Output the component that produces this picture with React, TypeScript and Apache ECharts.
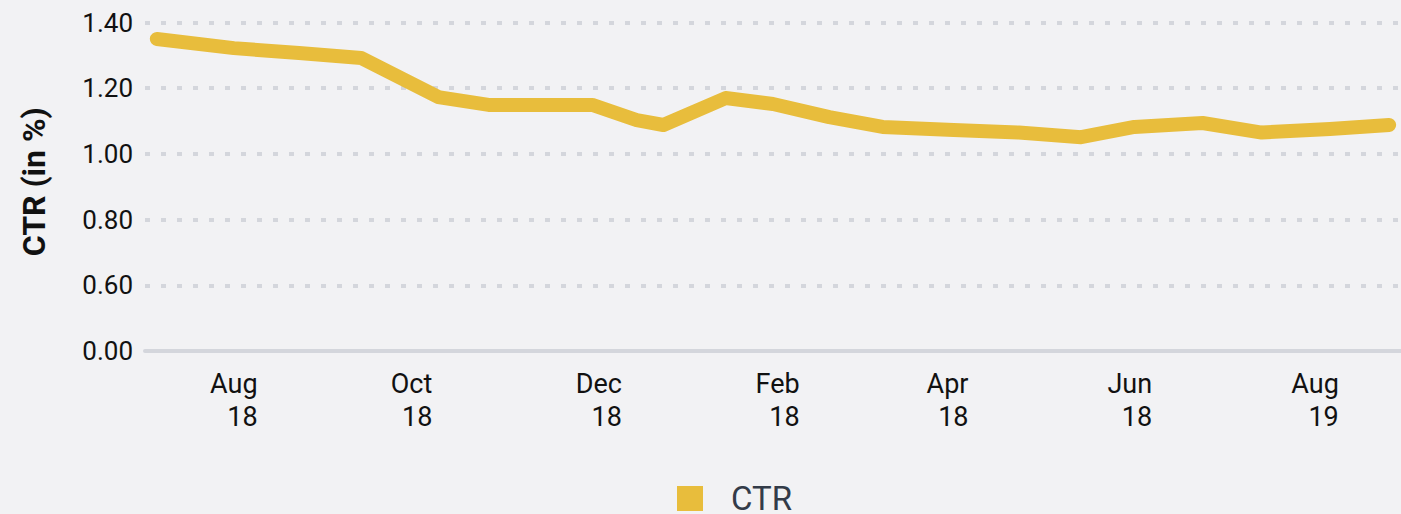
import React, { useEffect, useRef } from "react";
import * as echarts from "echarts";

// CTR series: [date (UTC y, m, d), value in %]
const pointDates: [number, number, number][] = [
  [2018, 6, 28], [2018, 7, 24], [2018, 8, 15], [2018, 9, 5], [2018, 10, 1],
  [2018, 10, 18], [2018, 11, 4], [2018, 11, 22], [2018, 12, 7], [2018, 12, 16],
  [2019, 1, 6], [2019, 1, 22], [2019, 2, 10], [2019, 2, 28], [2019, 3, 24],
  [2019, 4, 15], [2019, 5, 6], [2019, 5, 24], [2019, 6, 16], [2019, 7, 6],
  [2019, 7, 29], [2019, 8, 18],
];
const ctrValues: number[] = [
  1.35, 1.322, 1.307, 1.292, 1.173,
  1.149, 1.149, 1.149, 1.103, 1.088,
  1.17, 1.152, 1.112, 1.082, 1.073,
  1.065, 1.051, 1.082, 1.094, 1.065,
  1.076, 1.088,
];

// x axis tick labels and where they sit
const xTickDates: [number, number, number][] = [
  [2018, 8, 1], [2018, 9, 29], [2018, 12, 2], [2019, 1, 31],
  [2019, 3, 29], [2019, 5, 30], [2019, 8, 1],
];
const xTickLabels: string[] = [
  "Aug\n18", "Oct\n18", "Dec\n18", "Feb\n18", "Apr\n18", "Jun\n18", "Aug\n19",
];
const xRange: [number, number, number][] = [[2018, 6, 24], [2019, 8, 22]];

// y axis: broken scale, bottom tick reads 0.00
const yTickValues: number[] = [0.4, 0.6, 0.8, 1.0, 1.2, 1.4];
const yTickLabels: string[] = ["0.00", "0.60", "0.80", "1.00", "1.20", "1.40"];

const DAY = 86400000;
const dayOf = (d: [number, number, number]) =>
  Math.round((Date.UTC(d[0], d[1] - 1, d[2]) - Date.UTC(xRange[0][0], xRange[0][1] - 1, xRange[0][2])) / DAY);

export default function App() {
  const ref = useRef<HTMLDivElement>(null);
  useEffect(() => {
    if (!ref.current) return;
    const chart = echarts.init(ref.current, null, { renderer: "svg" });
    const tickDays = xTickDates.map(dayOf);
    const gridColor = "#D4D6DC";
    chart.setOption({
      animation: false,
      backgroundColor: "#F2F2F4",
      textStyle: { fontFamily: "Roboto" },
      grid: { left: 145, right: 0, top: 22.5, bottom: 163, containLabel: false },
      legend: {
        data: ["CTR"],
        icon: "rect",
        itemWidth: 26,
        itemHeight: 25,
        left: 677,
        top: 482,
        padding: 0,
        textStyle: {
          fontSize: 33,
          lineHeight: 30,
          color: "#333B48",
          fontFamily: "Roboto",
          padding: [0, 0, 0, 23],
        },
      },
      xAxis: {
        type: "value",
        min: 0,
        max: dayOf(xRange[1]),
        axisLine: { show: true, onZero: false, lineStyle: { color: gridColor, width: 4 } },
        axisTick: { show: false },
        splitLine: { show: false },
        axisLabel: {
          customValues: tickDays,
          showMinLabel: true,
          showMaxLabel: true,
          align: "right",
          margin: 16,
          fontSize: 27,
          lineHeight: 33,
          color: "#111111",
          fontFamily: "Roboto",
          formatter: (v: number) => {
            const i = tickDays.indexOf(Math.round(v));
            return i >= 0 ? xTickLabels[i] : "";
          },
        },
      },
      yAxis: {
        type: "value",
        min: 0.4,
        max: 1.4,
        interval: 0.2,
        name: "CTR (in %)",
        nameLocation: "middle",
        nameGap: 95,
        nameTextStyle: {
          fontSize: 32,
          fontWeight: "bold",
          color: "#111111",
          fontFamily: "Roboto",
          padding: [0, 0, 0, 10],
        },
        axisLine: { show: false },
        axisTick: { show: false },
        axisLabel: {
          margin: 12,
          fontSize: 26,
          color: "#111111",
          fontFamily: "Roboto",
          formatter: (v: number) => {
            const i = yTickValues.findIndex((t) => Math.abs(t - v) < 1e-6);
            return i >= 0 ? yTickLabels[i] : "";
          },
        },
        splitLine: {
          show: true,
          lineStyle: { color: gridColor, width: 4, type: [5, 11] },
        },
      },
      series: [
        {
          name: "CTR",
          type: "line",
          data: pointDates.map((d, i) => [dayOf(d), ctrValues[i]]),
          showSymbol: false,
          symbol: "none",
          color: "#E8BD3C",
          lineStyle: { width: 14, color: "#E8BD3C", cap: "round", join: "round" },
        },
      ],
    });
    return () => chart.dispose();
  }, []);
  return (
    <div
      ref={ref}
      style={{ position: "fixed", left: 0, top: 0, width: 1401, height: 514, background: "#F2F2F4" }}
    />
  );
}
